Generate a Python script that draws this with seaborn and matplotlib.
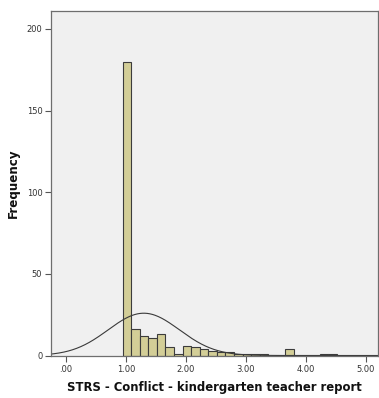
import numpy as np
import pandas as pd
import matplotlib
matplotlib.use("Agg")
import matplotlib.pyplot as plt
import seaborn as sns

# ---- data ----
bin_start = 0.944
bin_width = 1 / 7
counts = [180, 16, 12, 11, 13, 5, 1, 6, 5, 4, 3, 2, 2, 1, 1, 1, 1, 0, 0, 4, 0, 0, 0, 1, 1]
x_ticks = [0, 1, 2, 3, 4, 5]
x_tick_labels = [".00", "1.00", "2.00", "3.00", "4.00", "5.00"]
y_ticks = [0, 50, 100, 150, 200]
x_label = "STRS - Conflict - kindergarten teacher report"
y_label = "Frequency"

edges = [bin_start + bin_width * i for i in range(len(counts) + 1)]
centers = np.array([(edges[i] + edges[i + 1]) / 2 for i in range(len(counts))])
df = pd.DataFrame({"value": centers, "count": counts})

# normal curve from the data (as SPSS draws it)
w = np.array(counts, dtype=float)
n = w.sum()
mean = (w * centers).sum() / n
sd = np.sqrt((w * (centers - mean) ** 2).sum() / (n - 1))
xs = np.linspace(-0.3, 5.3, 400)
ys = n * bin_width * np.exp(-0.5 * ((xs - mean) / sd) ** 2) / (sd * np.sqrt(2 * np.pi))
curve = pd.DataFrame({"x": xs, "y": ys})

sns.set_theme(style="white")
plt.rcParams["font.family"] = ["DejaVu Sans"]

fig = plt.figure(figsize=(3.79, 3.98), dpi=100)
ax = fig.add_axes([50.7 / 379, 1 - 355.5 / 398, (378 - 50.7) / 379, (355.5 - 10.5) / 398])
ax.set_facecolor("#F0F0F0")

sns.histplot(data=df, x="value", weights="count", bins=edges, ax=ax,
             color="#D3CE97", edgecolor="#3C3C3C", linewidth=0.8, alpha=1)
sns.lineplot(data=curve, x="x", y="y", ax=ax, color="#3A3A3A", linewidth=0.8)

ax.set_xlim(-0.255, 5.2)
ax.set_ylim(0, 211.3)
ax.set_xticks(x_ticks)
ax.set_xticklabels(x_tick_labels)
ax.set_yticks(y_ticks)
ax.tick_params(axis="both", which="both", length=4, width=0.8, color="#555555",
               labelsize=6, labelcolor="#333333", pad=2, direction="out",
               bottom=True, left=True)
ax.tick_params(axis="x", pad=3)
for side, sp in ax.spines.items():
    sp.set_color("#6E6E6E")
    sp.set_linewidth(0.9)
    sp.set_visible(True)

ax.set_xlabel(x_label, fontsize=8.4, fontweight="bold", color="#111111", labelpad=5)
ax.set_ylabel(y_label, fontsize=8.6, fontweight="bold", color="#111111", labelpad=5)

fig.savefig("out.png", dpi=100)
